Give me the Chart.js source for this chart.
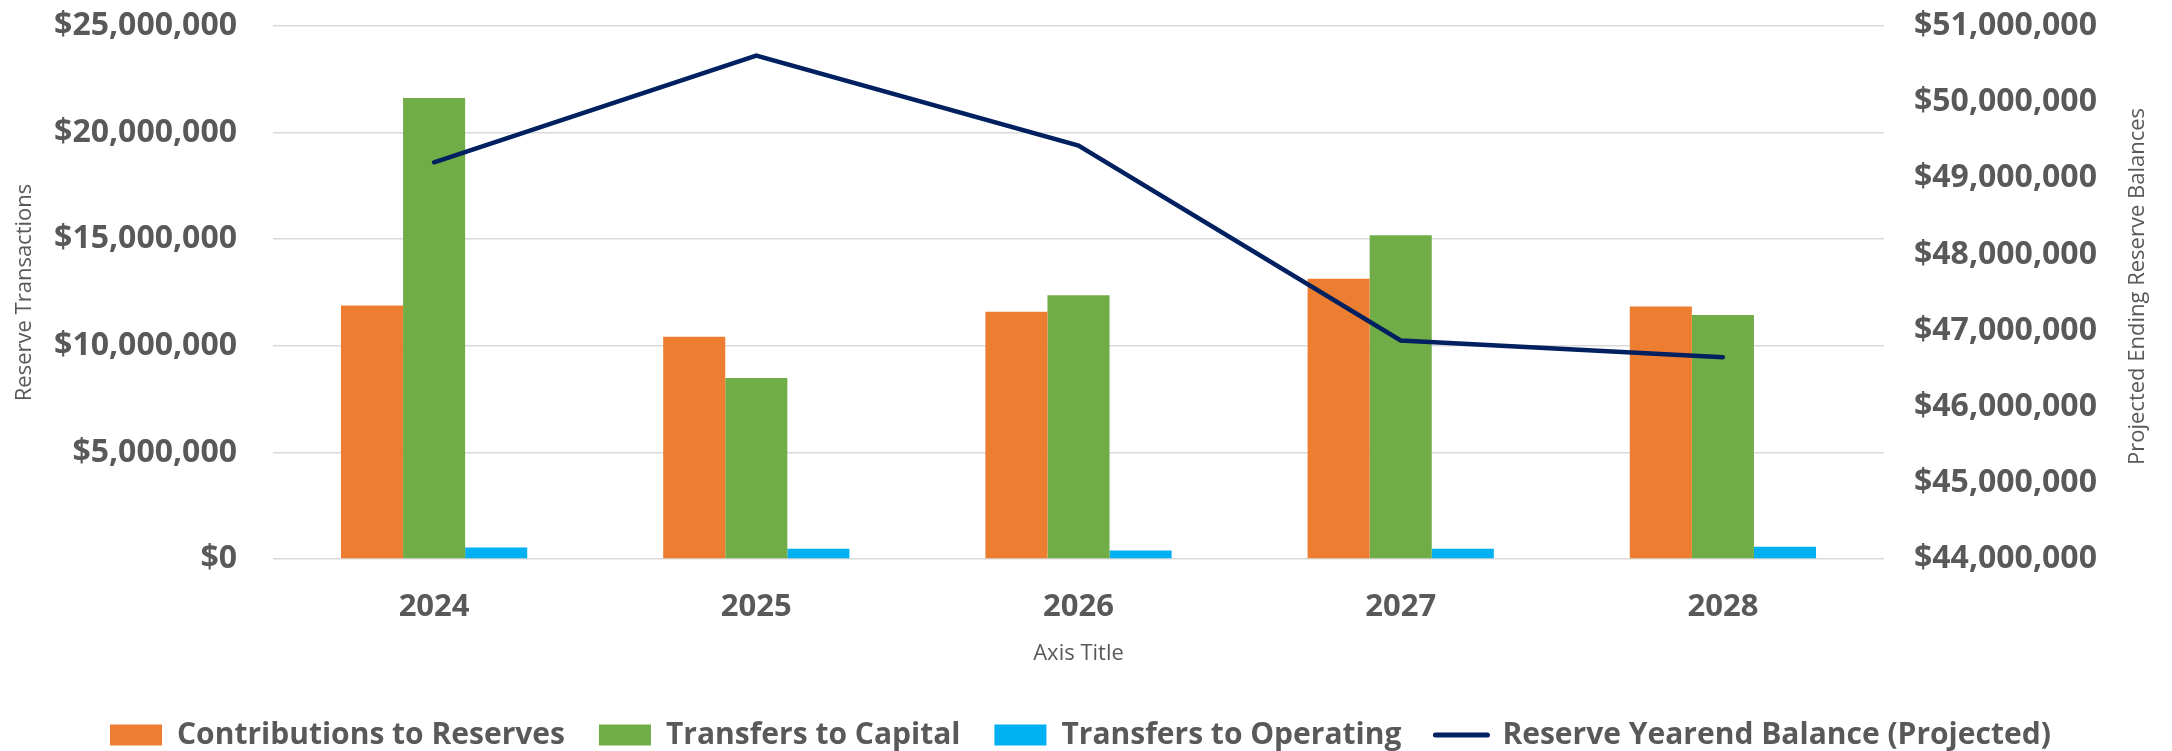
<!DOCTYPE html>
<html>
<head>
<meta charset="utf-8">
<script src="https://cdn.jsdelivr.net/npm/chart.js@4/dist/chart.umd.min.js"></script>
<style>
  body { margin: 0; background: #fff; }
  #wrap { width: 2172px; height: 751px; }
</style>
</head>
<body>
<div id="wrap"><canvas id="myChart" width="2172" height="751"></canvas></div>
<script>
// values
const years = ["2024", "2025", "2026", "2027", "2028"];
const contributions = [11890000, 10420000, 11600000, 13150000, 11840000];
const transfersCapital = [21620000, 8490000, 12370000, 15190000, 11440000];
const transfersOperating = [540000, 480000, 400000, 480000, 570000];
const yearendBalance = [49210000, 50610000, 49430000, 46870000, 46650000];

const seriesNames = [
  "Contributions to Reserves",
  "Transfers to Capital",
  "Transfers to Operating",
  "Reserve Yearend Balance (Projected)",
];
const leftTitle = "Reserve Transactions";
const rightTitle = "Projected Ending Reserve Balances";
const xTitle = "Axis Title";

const gray = "#595959";
Chart.defaults.font.family = "'Open Sans', sans-serif";
Chart.defaults.color = gray;

const money = (v) => "$" + Number(v).toLocaleString("en-US");

// move the legend so it starts where the excel one does
const legendShift = {
  id: "legendShift",
  afterLayout(chart) {
    const lg = chart.legend;
    const dx = 110 - (lg.left + lg.options.labels.padding);
    lg.left += dx;
    lg.right += dx;
    lg.top += 9;
    lg.bottom += 9;
  },
};

// right axis title reads bottom-to-top like the left one
const rightAxisTitle = {
  id: "rightAxisTitle",
  afterDraw(chart) {
    const ctx = chart.ctx;
    const s = chart.scales.y1;
    ctx.save();
    ctx.translate(s.right - 34, (s.top + s.bottom) / 2 - 6);
    ctx.rotate(-Math.PI / 2);
    ctx.font = "22px 'Open Sans'";
    ctx.fillStyle = gray;
    ctx.textAlign = "center";
    ctx.textBaseline = "middle";
    ctx.fillText(rightTitle, 0, 0);
    ctx.restore();
  },
};

const barCommon = {
  type: "bar",
  yAxisID: "y",
  borderWidth: 0,
  barPercentage: 1,
  categoryPercentage: 0.578,
  order: 1,
};

new Chart(document.getElementById("myChart"), {
  data: {
    labels: years,
    datasets: [
      { ...barCommon, label: seriesNames[0], data: contributions, backgroundColor: "#ED7D31" },
      { ...barCommon, label: seriesNames[1], data: transfersCapital, backgroundColor: "#70AD47" },
      { ...barCommon, label: seriesNames[2], data: transfersOperating, backgroundColor: "#00B0F0" },
      {
        type: "line",
        label: seriesNames[3],
        data: yearendBalance,
        yAxisID: "y1",
        borderColor: "#002060",
        backgroundColor: "#002060",
        borderWidth: 4.5,
        borderCapStyle: "round",
        pointRadius: 0,
        tension: 0,
        order: 0,
      },
    ],
  },
  options: {
    responsive: false,
    animation: false,
    layout: { padding: { top: 26, left: 0, right: 0, bottom: 0 } },
    plugins: {
      tooltip: { enabled: false },
      legend: {
        position: "bottom",
        align: "start",
        labels: {
          usePointStyle: true,
          pointStyleWidth: 52,
          boxWidth: 52,
          boxHeight: 21,
          padding: 34,
          color: gray,
          font: { size: 30, weight: "bold" },
          sort: (a, b) => a.datasetIndex - b.datasetIndex,
          generateLabels(chart) {
            const items = Chart.defaults.plugins.legend.labels.generateLabels(chart);
            return items.map((it) => {
              const ds = chart.data.datasets[it.datasetIndex];
              if (ds.type === "line") {
                it.pointStyle = "line";
                it.lineWidth = 5;
                it.lineCap = "round";
                it.strokeStyle = ds.borderColor;
              } else {
                it.pointStyle = "rect";
                it.lineWidth = 0;
                it.strokeStyle = ds.backgroundColor;
              }
              return it;
            });
          },
        },
      },
    },
    scales: {
      x: {
        afterFit: (s) => { s.height = 118; },
        grid: { display: false, drawTicks: false },
        border: { display: false },
        ticks: { padding: 30, color: gray, font: { size: 31, weight: "bold" } },
        title: {
          display: true,
          text: xTitle,
          color: gray,
          font: { size: 22 },
          padding: { top: 15, bottom: 10 },
        },
      },
      y: {
        position: "left",
        min: 0,
        max: 25000000,
        afterFit: (s) => { s.width = 273; s.paddingTop = 0; s.paddingBottom = 0; },
        grid: { color: "#D9D9D9", lineWidth: 1.5, drawTicks: false },
        border: { display: false },
        ticks: {
          stepSize: 5000000,
          padding: 36,
          color: gray,
          font: { size: 32, weight: "bold" },
          callback: money,
        },
        title: {
          display: true,
          text: leftTitle,
          color: gray,
          font: { size: 22 },
          padding: { top: 12, bottom: 0 },
        },
      },
      y1: {
        position: "right",
        min: 44000000,
        max: 51000000,
        afterFit: (s) => { s.width = 288; s.paddingTop = 0; s.paddingBottom = 0; },
        grid: { display: false, drawTicks: false },
        border: { display: false },
        ticks: {
          stepSize: 1000000,
          padding: 30,
          color: gray,
          font: { size: 32, weight: "bold" },
          callback: money,
        },
      },
    },
  },
  plugins: [legendShift, rightAxisTitle],
});
</script>
</body>
</html>
